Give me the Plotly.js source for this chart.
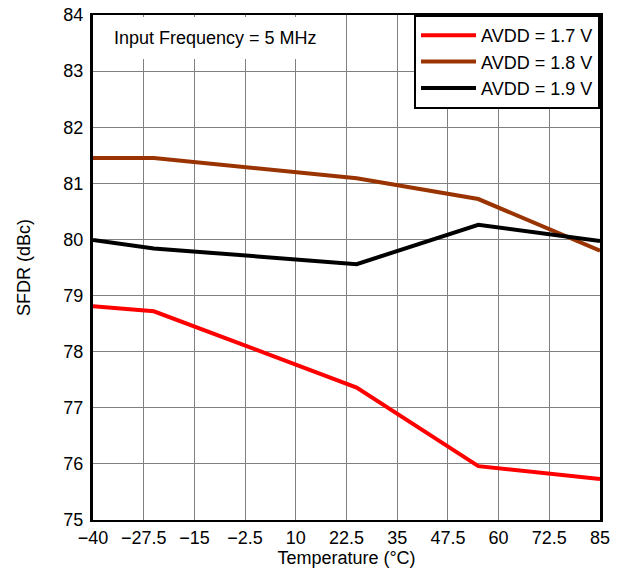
<!DOCTYPE html>
<html>
<head>
<meta charset="utf-8">
<script src="https://cdn.plot.ly/plotly-3.0.1.min.js"></script>
<style>html,body{margin:0;padding:0;background:#fff;}#chart{width:618px;height:571px;}</style>
</head>
<body>
<div id="chart"></div>
<script>
const temperature = [-40, -25, 25, 55, 85];
const sfdr_17 = [78.81, 78.72, 77.36, 75.96, 75.73];
const sfdr_18 = [81.45, 81.45, 81.09, 80.72, 79.80];
const sfdr_19 = [79.99, 79.84, 79.56, 80.26, 79.97];
const seriesNames = ['AVDD = 1.7 V', 'AVDD = 1.8 V', 'AVDD = 1.9 V'];
const xTickVals = [-40, -27.5, -15, -2.5, 10, 22.5, 35, 47.5, 60, 72.5, 85];
const xTickText = ['\u221240', '\u221227.5', '\u221215', '\u22122.5', '10', '22.5', '35', '47.5', '60', '72.5', '85'];
const yTickVals = [75, 76, 77, 78, 79, 80, 81, 82, 83, 84];
const yTickText = ['75', '76', '77', '78', '79', '80', '81', '82', '83', '84'];

const colors = ['#ff0000', '#993300', '#000000'];
const ys = [sfdr_17, sfdr_18, sfdr_19];
const traces = ys.map((y, i) => ({
  x: temperature, y: y, type: 'scatter', mode: 'lines', name: seriesNames[i],
  line: {color: colors[i], width: 4}
}));

const font = {family: 'Liberation Sans, Arial, sans-serif', size: 18, color: '#000'};
const layout = {
  width: 618, height: 571,
  margin: {l: 93, r: 18, t: 15, b: 51, pad: 0},
  paper_bgcolor: '#fff', plot_bgcolor: '#fff',
  font: font,
  showlegend: true,
  legend: {x: 1, xanchor: 'right', y: 1, yanchor: 'top', bgcolor: '#fff',
    bordercolor: '#000', borderwidth: 2, font: font, tracegroupgap: 0, itemwidth: 55},
  xaxis: {range: [-40, 85], tickmode: 'array', tickvals: xTickVals, ticktext: xTickText,
    showgrid: true, gridcolor: '#808080', gridwidth: 1, zeroline: false,
    showline: true, linecolor: '#000', linewidth: 2, mirror: true, ticks: '',
    tickfont: font, title: {text: 'Temperature (\u00b0C)', font: font, standoff: 2}},
  yaxis: {range: [75, 84], tickmode: 'array', tickvals: yTickVals, ticktext: yTickText,
    showgrid: true, gridcolor: '#808080', gridwidth: 1, zeroline: false,
    showline: true, linecolor: '#000', linewidth: 3, mirror: true, ticks: '',
    ticklabelstandoff: 3,
    tickfont: font, title: {text: 'SFDR (dBc)', font: font, standoff: 29}},
  shapes: [{type: 'rect', xref: 'paper', yref: 'paper', x0: 0.004, x1: 0.487, y0: 0.913, y1: 0.996,
    fillcolor: '#fff', line: {width: 0}, layer: 'above'}],
  annotations: [{xref: 'paper', yref: 'paper', x: 0.037, y: 0.955, xanchor: 'left', yanchor: 'middle',
    text: 'Input Frequency = 5 MHz', showarrow: false, font: font}]
};
Plotly.newPlot('chart', traces, layout, {displayModeBar: false, staticPlot: true});
</script>
</body>
</html>
